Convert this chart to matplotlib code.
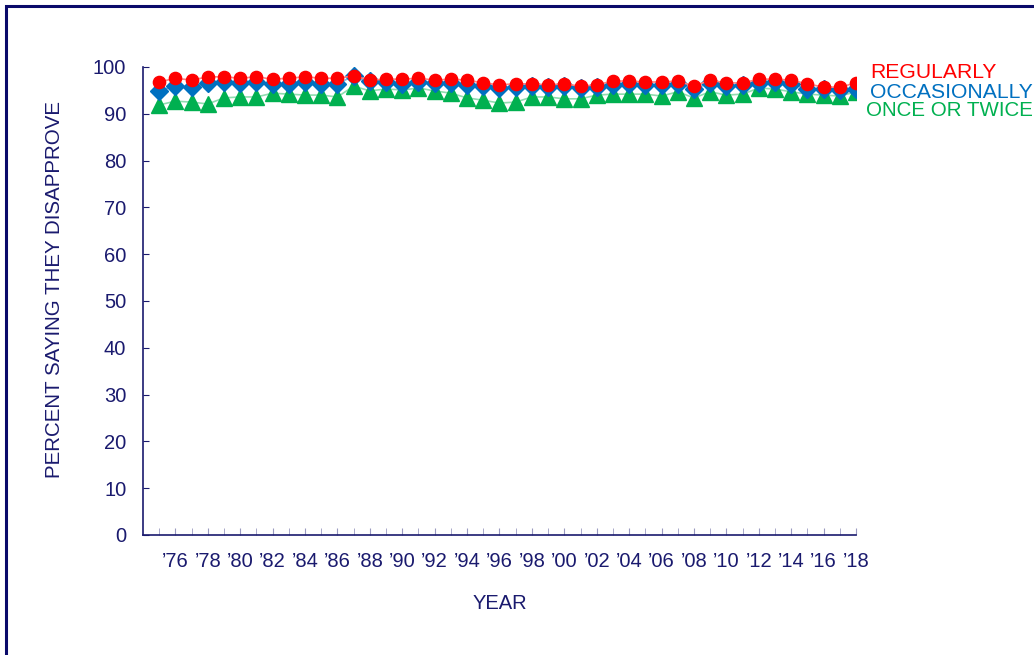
import matplotlib
matplotlib.use("Agg")
import matplotlib.pyplot as plt
from matplotlib.patches import Rectangle

years = list(range(1975, 2019))
regularly = [96.8, 97.6, 97.2, 97.9, 97.9, 97.6, 97.9, 97.4, 97.6, 97.9,
             97.6, 97.6, 98.1, 97.2, 97.4, 97.4, 97.6, 97.2, 97.4, 97.2,
             96.6, 96.2, 96.4, 96.4, 96.2, 96.4, 95.9, 96.2, 97.0, 97.0,
             96.8, 96.8, 97.0, 95.9, 97.2, 96.6, 96.6, 97.4, 97.4, 97.2,
             96.4, 95.7, 95.7, 96.6]
occasionally = [94.9, 95.9, 95.7, 96.6, 96.8, 96.6, 96.8, 96.4, 96.4, 96.8,
                96.4, 96.4, 98.1, 97.0, 96.8, 96.4, 96.8, 96.6, 96.6, 96.2,
                95.9, 95.5, 95.7, 95.9, 95.7, 95.9, 95.5, 95.7, 96.2, 96.4,
                96.2, 96.2, 96.4, 95.3, 96.6, 95.9, 96.2, 96.6, 96.8, 96.4,
                95.3, 95.3, 95.1, 95.3]
once_or_twice = [91.9, 92.7, 92.5, 92.1, 93.4, 93.6, 93.6, 94.4, 94.2, 94.0,
                 94.0, 93.6, 95.9, 94.9, 95.3, 95.1, 95.5, 94.9, 94.4, 93.4,
                 92.9, 92.3, 92.5, 93.6, 93.6, 93.2, 93.2, 94.0, 94.2, 94.2,
                 94.2, 93.8, 94.7, 93.4, 94.7, 94.0, 94.2, 95.5, 95.3, 94.7,
                 94.2, 94.0, 93.8, 94.7]
series_names = ["REGULARLY", "OCCASIONALLY", "ONCE OR TWICE"]
tick_years = list(range(1976, 2019, 2))
tick_labels = ["\u2019%02d" % (y % 100) for y in tick_years]
y_ticks = list(range(0, 101, 10))

navy = "#1a1a6e"
red = "#ff0000"
blue = "#0070c0"
green = "#00b050"

plt.rcParams['font.family'] = ['Liberation Sans', 'DejaVu Sans']
FS = 14.5

fig = plt.figure(figsize=(10.34, 6.55), dpi=100)
fig.patches.append(Rectangle((6/1034, -0.1), 1.2, 1 - 6/655 + 0.1, transform=fig.transFigure,
                             fill=False, edgecolor="#0a0a6a", linewidth=2.2))

ax = fig.add_axes([143/1034, 1 - 535/655, (856 - 143)/1034, (535 - 67)/655])

ax.plot(years, once_or_twice, color="#8fdcaf", lw=1.2, marker="^", ms=11.5,
        mfc=green, mec=green, zorder=3)
ax.plot(years, occasionally, color="#80b8e0", lw=1.2, marker="D", ms=9.5,
        mfc=blue, mec=blue, zorder=4)
ax.plot(years, regularly, color="#ff8080", lw=1.2, marker="o", ms=8.8,
        mfc=red, mec=red, zorder=5)

ax.set_xlim(1974, 2018)
ax.set_ylim(0, 100)
for s in ["top", "right"]:
    ax.spines[s].set_visible(False)
for s in ["left", "bottom"]:
    ax.spines[s].set_color(navy)
    ax.spines[s].set_linewidth(1.2)

ax.set_yticks(y_ticks)
ax.tick_params(axis="y", direction="in", length=4, color=navy, labelsize=FS,
               labelcolor=navy, pad=12)
ax.set_xticks(tick_years)
ax.set_xticklabels(tick_labels)
ax.set_xticks(years, minor=True)
ax.tick_params(axis="x", which="both", direction="in", length=5, color="#9a9ac0",
               labelsize=FS, labelcolor=navy, pad=12)

ax.set_ylabel("PERCENT SAYING THEY DISAPPROVE", fontsize=14.8, color=navy)
ax.yaxis.set_label_coords((64 - 143) / 713, (535 - 290) / 468)
ax.set_xlabel("YEAR", fontsize=FS, color=navy, labelpad=17)

fig.text(870/1034, 1 - 73/655, series_names[0], color=red, fontsize=15.2, va="center", ha="left")
fig.text(870/1034, 1 - 92/655, series_names[1], color=blue, fontsize=15.2, va="center", ha="left")
fig.text(866/1034, 1 - 111/655, series_names[2], color=green, fontsize=14.8, va="center", ha="left")

fig.savefig("out.png", dpi=100)
